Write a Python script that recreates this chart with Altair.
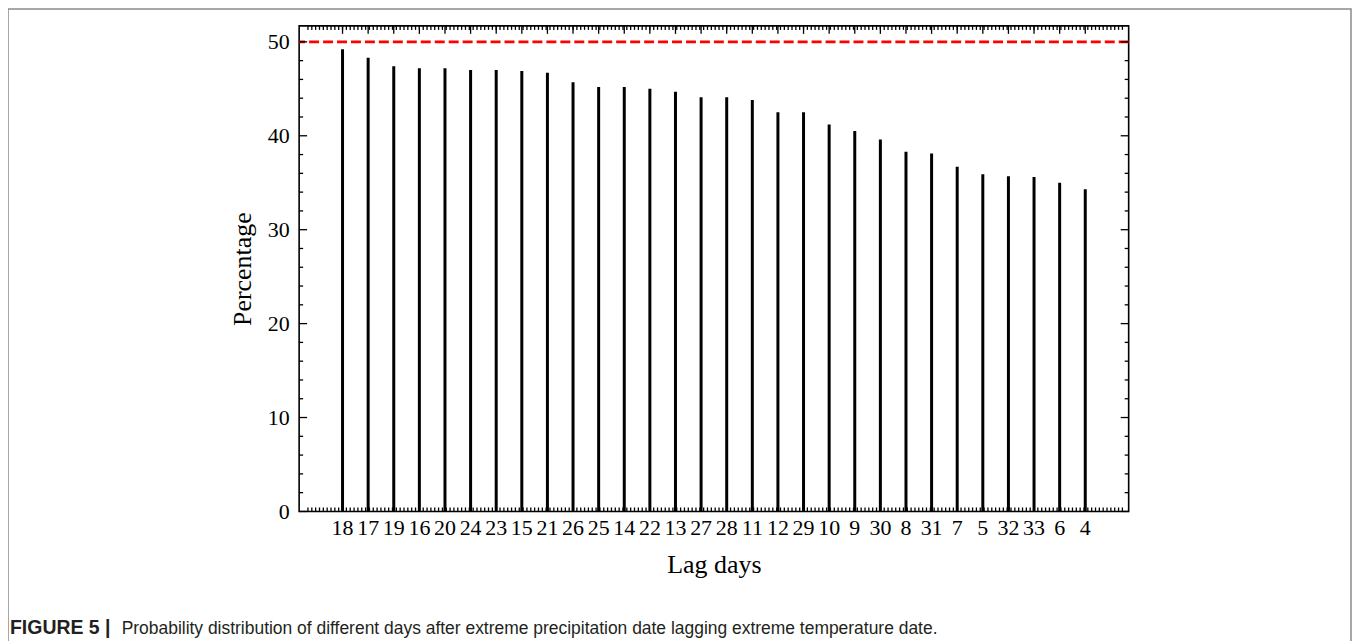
import altair as alt
import numpy as np
import pandas as pd

# ---- data ----
lags = ["18", "17", "19", "16", "20", "24", "23", "15", "21", "26",
        "25", "14", "22", "13", "27", "28", "11", "12", "29", "10",
        "9", "30", "8", "31", "7", "5", "32", "33", "6", "4"]
pct = [49.2, 48.3, 47.4, 47.2, 47.2, 47.0, 47.0, 46.9, 46.7, 45.7,
       45.2, 45.2, 45.0, 44.7, 44.1, 44.1, 43.8, 42.5, 42.5, 41.2,
       40.5, 39.6, 38.3, 38.1, 36.7, 35.9, 35.7, 35.6, 35.0, 34.3]
threshold = [50]
y_major = [0, 10, 20, 30, 40, 50]

caption_bold = "FIGURE 5 |"
caption_rest = ("Probability distribution of different days after extreme "
                "precipitation date lagging extreme temperature date.")

W, H = 832, 487
SERIF = "Liberation Serif"
N = len(lags)

df = pd.DataFrame({"idx": list(range(N)), "lag": lags, "pct": pct})

xscale = alt.Scale(domain=[-1.5, N + 0.5], nice=False, zero=False)
yscale = alt.Scale(domain=[0, 51.7], nice=False, zero=False)

bars = alt.Chart(df).mark_bar(size=3, color="black").encode(
    x=alt.X("idx:Q", scale=xscale,
            axis=alt.Axis(values=list(range(N)), labels=False,
                          title="Lag days", titlePadding=40)),
    y=alt.Y("pct:Q", scale=yscale,
            axis=alt.Axis(values=y_major, title="Percentage",
                          labelPadding=10, titlePadding=12)),
)

# category tick labels placed through the x scale
xlabels = alt.Chart(df).mark_text(
    font=SERIF, fontSize=22, baseline="top", align="center", color="black"
).encode(x=alt.X("idx:Q", scale=xscale), y=alt.value(H + 7), text="lag:N")

ref = alt.Chart(pd.DataFrame({"pct": threshold})).mark_rule(
    color="#ff0000", strokeWidth=2.7, strokeDash=[10, 4]
).encode(y=alt.Y("pct:Q", scale=yscale))

# decorative inward ticks (axis furniture)
y_minor = [v for v in range(2, 52, 2) if v % 10 != 0]
ymaj_df = pd.DataFrame({"pct": y_major})
ymin_df = pd.DataFrame({"pct": y_minor})
xmaj_df = pd.DataFrame({"idx": list(range(N))})
xmin_df = pd.DataFrame({"idx": np.arange(-1.5 + 0.15, N + 0.5, 0.15)})

def ytick(d, x1, x2):
    return alt.Chart(d).mark_rule(color="black", strokeWidth=1.3).encode(
        y=alt.Y("pct:Q", scale=yscale), x=alt.value(x1), x2=alt.value(x2))

def xtick(d, y1, y2):
    return alt.Chart(d).mark_rule(color="black", strokeWidth=1.3).encode(
        x=alt.X("idx:Q", scale=xscale), y=alt.value(y1), y2=alt.value(y2))

ticks = [
    ytick(ymaj_df, 0, 8), ytick(ymaj_df, W, W - 8),
    ytick(ymin_df, 0, 4), ytick(ymin_df, W, W - 4),
    xtick(xmaj_df, 0, 8), xtick(xmaj_df, H, H - 8),
    xtick(xmin_df, 0, 4), xtick(xmin_df, H, H - 4),
]

# figure panel frame and caption
frame = alt.Chart(pd.DataFrame({"a": [0]})).mark_rect(
    filled=False, stroke="#8a8a8a", strokeWidth=1.5
).encode(x=alt.value(-292), x2=alt.value(1055), y=alt.value(-17), y2=alt.value(700))

cap1 = alt.Chart(pd.DataFrame({"t": [caption_bold]})).mark_text(
    align="left", baseline="alphabetic", font="Liberation Sans", fontWeight="bold",
    fontSize=19.5, color="#231f20"
).encode(text="t:N", x=alt.value(-290), y=alt.value(610))

cap2 = alt.Chart(pd.DataFrame({"t": [caption_rest]})).mark_text(
    align="left", baseline="alphabetic", font="Liberation Sans",
    fontSize=17.5, color="#231f20"
).encode(text="t:N", x=alt.value(-290 + 112), y=alt.value(610))

chart = alt.layer(frame, bars, xlabels, ref, *ticks, cap1, cap2).properties(
    width=W, height=H,
    autosize=alt.AutoSizeParams(type="none"),
    padding={"left": 292, "top": 17, "right": 1348 - 292 - W, "bottom": 633 - 17 - H},
).configure_view(
    stroke="black", strokeWidth=1.6
).configure_axis(
    ticks=False, domain=False, grid=False,
    labelFont=SERIF, labelFontSize=22, labelColor="black",
    titleFont=SERIF, titleFontSize=26, titleFontWeight="normal", titleColor="black",
)

chart.save("out.html", embed_options={"renderer": "svg", "actions": False})
